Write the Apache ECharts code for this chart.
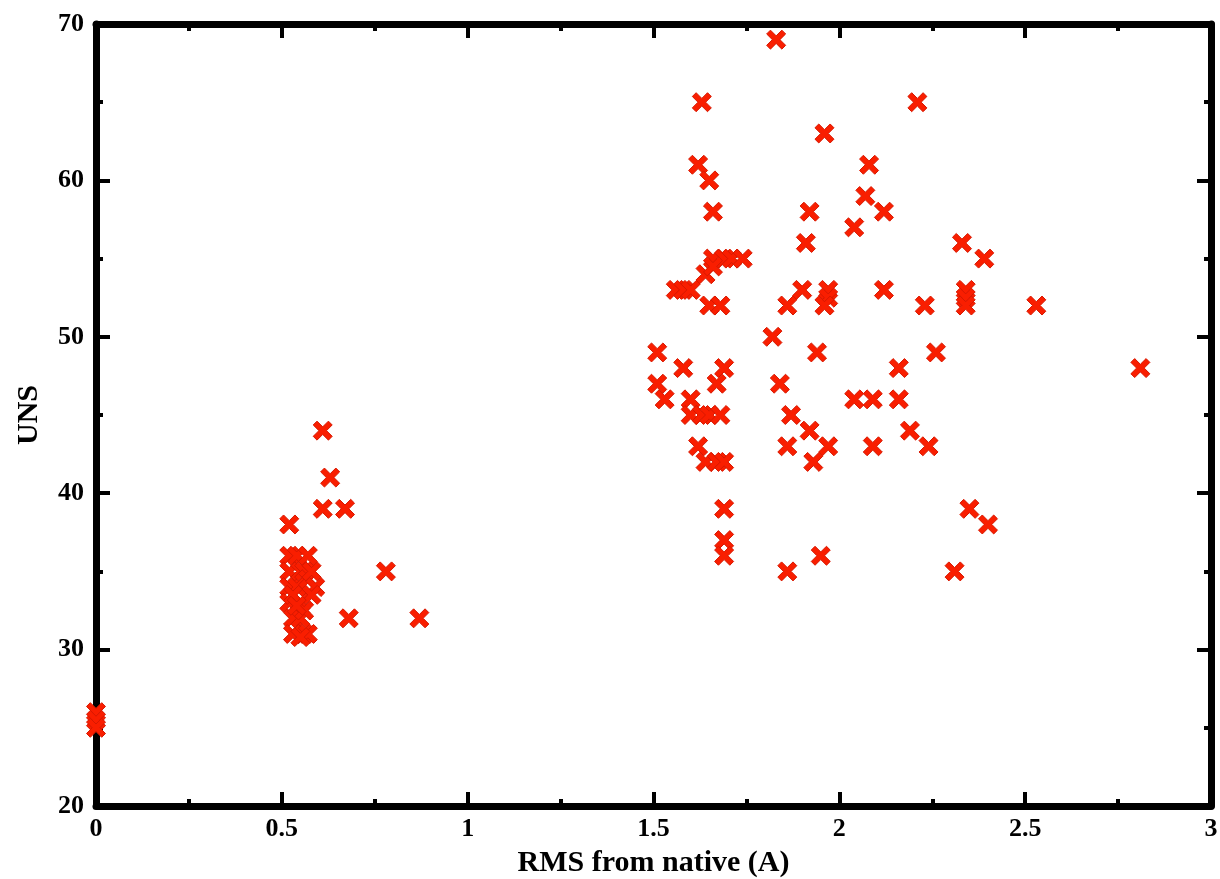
<!DOCTYPE html>
<html>
<head>
<meta charset="utf-8">
<script src="https://cdn.jsdelivr.net/npm/echarts@6/dist/echarts.min.js"></script>
<style>html,body{margin:0;padding:0;background:#fff;}#c{width:1220px;height:879px;}</style>
</head>
<body>
<div id="c"></div>
<script>
// RMS from native (A)
const rmsValues = [
  0, 0, 0,
  0.61, 0.63, 0.61, 0.67, 0.52, 0.78, 0.68, 0.87,
  0.52, 0.52, 0.52, 0.52, 0.53, 0.53, 0.54, 0.55, 0.54, 0.55, 0.55, 0.56, 0.57, 0.56, 0.57, 0.58, 0.59, 0.58, 0.57, 0.55, 0.56, 0.53, 0.54,
  1.83, 1.63, 2.21, 1.96, 1.62, 2.08, 1.65, 2.07, 1.66, 1.92, 2.12, 2.04, 1.91, 2.33,
  1.66, 1.69, 1.71, 1.74, 2.39,
  1.64, 1.66,
  1.56, 1.58, 1.60, 1.90, 1.97, 2.12, 2.34,
  1.65, 1.68, 1.86, 1.97, 1.96, 2.23, 2.34, 2.34, 2.53,
  1.82,
  1.51, 1.94, 2.26,
  1.58, 1.69, 2.16, 2.81,
  1.51, 1.67, 1.84,
  1.53, 1.60, 2.04, 2.09, 2.16,
  1.60, 1.63, 1.65, 1.68, 1.87,
  1.92, 2.19,
  1.62, 1.86, 1.97, 2.09, 2.24,
  1.64, 1.67, 1.69, 1.93,
  1.69, 2.35,
  2.40,
  1.69,
  1.69, 1.95,
  1.86, 2.31
];
// UNS
const unsValues = [
  26, 25.5, 25,
  44, 41, 39, 39, 38, 35, 32, 32,
  36, 35, 34, 33, 32, 31, 36, 35, 34, 33, 32, 31, 36, 35, 34.5, 35, 34, 33.5, 31, 30.8, 32.5, 33.5, 32.8,
  69, 65, 65, 63, 61, 61, 60, 59, 58, 58, 58, 57, 56, 56,
  55, 55, 55, 55, 55,
  54, 54.5,
  53, 53, 53, 53, 53, 53, 53,
  52, 52, 52, 52.5, 52, 52, 52.5, 52, 52,
  50,
  49, 49, 49,
  48, 48, 48, 48,
  47, 47, 47,
  46, 46, 46, 46, 46,
  45, 45, 45, 45, 45,
  44, 44,
  43, 43, 43, 43, 43,
  42, 42, 42, 42,
  39, 39,
  38,
  37,
  36, 36,
  35, 35
];
const xTicks = [0, 0.5, 1, 1.5, 2, 2.5, 3];
const yTicks = [20, 30, 40, 50, 60, 70];

const points = rmsValues.map((x, i) => [x, unsValues[i]]);
const font = 'Liberation Serif';
const labelStyle = {fontFamily: font, fontWeight: 'bold', fontSize: 26, color: '#000'};
const nameStyle = {fontFamily: font, fontWeight: 'bold', fontSize: 30, color: '#000'};
const lineStyle = {color: '#000', width: 7};
const tickCommon = {show: true, inside: true, length: 14, lineStyle: {color: '#000', width: 4}};
const minorCommon = {show: true, splitNumber: 2, length: 7, lineStyle: {color: '#000', width: 4}};

function xAx(pos, showLabel) {
  return {
    type: 'value', position: pos, min: xTicks[0], max: xTicks[xTicks.length - 1], interval: 0.5,
    axisLine: {show: true, onZero: false, lineStyle: lineStyle},
    axisTick: tickCommon, minorTick: minorCommon,
    splitLine: {show: false},
    axisLabel: Object.assign({show: showLabel, margin: 10, formatter: v => String(v)}, labelStyle),
    name: showLabel ? 'RMS from native (A)' : '', nameLocation: 'middle', nameGap: 42,
    nameTextStyle: nameStyle
  };
}
function yAx(pos, showLabel) {
  return {
    type: 'value', position: pos, min: yTicks[0], max: yTicks[yTicks.length - 1], interval: 10,
    axisLine: {show: true, onZero: false, lineStyle: lineStyle},
    axisTick: tickCommon, minorTick: minorCommon,
    splitLine: {show: false},
    axisLabel: Object.assign({show: showLabel, margin: 12}, labelStyle),
    name: showLabel ? 'UNS' : '', nameLocation: 'middle', nameGap: 52,
    nameTextStyle: nameStyle
  };
}

const chart = echarts.init(document.getElementById('c'), null, {renderer: 'canvas'});
chart.setOption({
  backgroundColor: '#fff',
  animation: false,
  grid: {left: 96, right: 9, top: 24, bottom: 73, containLabel: false, outerBoundsMode: 'none'},
  xAxis: [xAx('bottom', true), xAx('top', false)],
  yAxis: [yAx('left', true), yAx('right', false)],
  series: [{
    type: 'scatter',
    xAxisIndex: 0, yAxisIndex: 0,
    data: points,
    symbol: 'path://M2,0 L5,3 L8,0 L10,2 L7,5 L10,8 L8,10 L5,7 L2,10 L0,8 L3,5 L0,2 Z',
    symbolSize: 19,
    clip: false,
    itemStyle: {color: '#f91e00', borderColor: '#d81800', borderWidth: 1, opacity: 1}
  }]
});
</script>
</body>
</html>
